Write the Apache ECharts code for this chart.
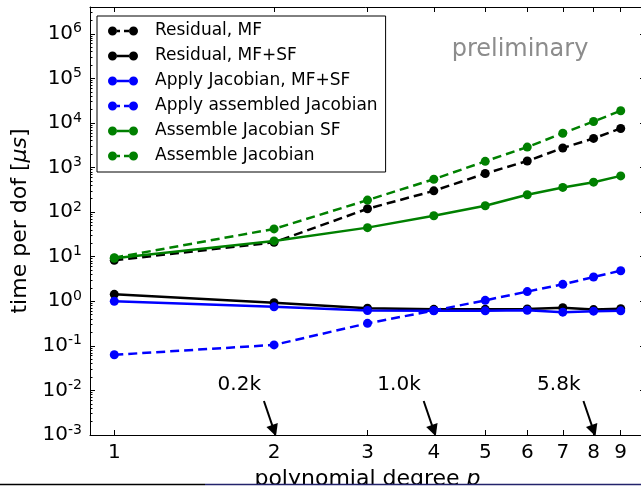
<!DOCTYPE html>
<html>
<head>
<meta charset="utf-8">
<script src="https://cdn.jsdelivr.net/npm/echarts@6/dist/echarts.min.js"></script>
<style>
html,body{margin:0;padding:0;background:#fff;}
#chart{width:641px;height:486px;}
</style>
</head>
<body>
<div id="chart"></div>
<script>
// ---- data ----
var degrees = [1, 2, 3, 4, 5, 6, 7, 8, 9];
var residualMF = [8.3, 21, 119, 300, 735, 1400, 2740, 4510, 7540];
var residualMFSF = [1.43, 0.93, 0.70, 0.66, 0.66, 0.67, 0.72, 0.65, 0.68];
var applyJacMFSF = [1.0, 0.75, 0.62, 0.61, 0.61, 0.63, 0.57, 0.60, 0.61];
var applyAssembled = [0.063, 0.105, 0.32, 0.62, 1.05, 1.65, 2.4, 3.5, 4.85];
var assembleJacSF = [9.2, 22.6, 44.9, 83, 139, 245, 358, 470, 650];
var assembleJac = [9.5, 42, 186, 548, 1380, 2880, 5900, 10800, 18800];
var seriesNames = ['Residual, MF', 'Residual, MF+SF', 'Apply Jacobian, MF+SF',
  'Apply assembled Jacobian', 'Assemble Jacobian SF', 'Assemble Jacobian'];
var yMajorTicks = [1e-3, 1e-2, 1e-1, 1, 10, 100, 1e3, 1e4, 1e5, 1e6];
var xTicks = [1, 2, 3, 4, 5, 6, 7, 8, 9];
var annotDegrees = [2, 4, 8];
var annotLabels = ['0.2k', '1.0k', '5.8k'];
var watermark = 'preliminary';

// ---- build ----
var FONT = 'DejaVu Sans';
var yMinorTicks = [];
for (var e = -3; e <= 6; e++) {
  for (var k = 2; k <= 9; k++) {
    var v = k * Math.pow(10, e);
    if (v < 4e6) yMinorTicks.push(v);
  }
}
function pairs(arr) { return degrees.map(function (d, i) { return [d, arr[i]]; }); }

var solidIcon = 'path://M0,4.5a4.5,4.5 0 1,0 9,0a4.5,4.5 0 1,0 -9,0Z M21,4.5a4.5,4.5 0 1,0 9,0a4.5,4.5 0 1,0 -9,0Z M8.8,3.3H21.2V5.7H8.8Z';
var dashIcon = 'path://M0,4.5a4.5,4.5 0 1,0 9,0a4.5,4.5 0 1,0 -9,0Z M21,4.5a4.5,4.5 0 1,0 9,0a4.5,4.5 0 1,0 -9,0Z M8.8,3.3H12V5.7H8.8Z M16,3.3H21.2V5.7H16Z';

var defs = [
  {data: residualMF, color: '#000000', dashed: true},
  {data: residualMFSF, color: '#000000', dashed: false},
  {data: applyJacMFSF, color: '#0000ff', dashed: false},
  {data: applyAssembled, color: '#0000ff', dashed: true},
  {data: assembleJacSF, color: '#008000', dashed: false},
  {data: assembleJac, color: '#008000', dashed: true}
];

var series = defs.map(function (d, i) {
  return {
    name: seriesNames[i],
    type: 'line',
    data: pairs(d.data),
    symbol: 'circle',
    symbolSize: 9,
    showAllSymbol: true,
    color: d.color,
    itemStyle: {color: d.color, borderWidth: 0},
    lineStyle: {color: d.color, width: 2.5, type: d.dashed ? [9, 5] : 'solid'},
    emphasis: {disabled: true},
    z: 3 + i
  };
});

// annotations (arrows + labels) in data coordinates
series.push({
  name: 'annotations',
  type: 'line',
  data: [],
  silent: true,
  clip: false,
  markLine: {
    silent: true,
    symbol: ['none', 'triangle'],
    symbolSize: 12,
    symbolOffset: [0, 0],
    label: {show: false},
    lineStyle: {color: '#000', width: 2, type: 'solid'},
    itemStyle: {color: '#000'},
    emphasis: {disabled: true},
    data: annotDegrees.map(function (p) {
      return [{coord: [p * 0.957, 0.0058]}, {coord: [p, 0.00125]}];
    })
  },
  markPoint: {
    silent: true,
    symbol: 'circle',
    symbolSize: 0,
    label: {show: true, position: 'inside', formatter: '{b}', color: '#000', fontSize: 20, fontFamily: FONT},
    data: annotDegrees.map(function (p, i) {
      return {name: annotLabels[i], coord: [p * 0.86, 0.0132], value: 0};
    })
  }
});

var logX = {type: 'log', logBase: 2, min: 0.9, max: 10, gridIndex: 0};
var chart = echarts.init(document.getElementById('chart'), null, {renderer: 'canvas'});
chart.setOption({
  animation: false,
  backgroundColor: '#ffffff',
  grid: {left: 90, top: 7, width: 555, height: 428, containLabel: false, outerBoundsMode: 'none'},
  legend: {
    left: 97, top: 16,
    orient: 'vertical',
    padding: [5, 8, 6, 11],
    itemWidth: 30, itemHeight: 9, itemGap: 5,
    borderColor: '#000', borderWidth: 1, backgroundColor: '#fff',
    selectedMode: false,
    textStyle: {fontSize: 17, fontFamily: FONT, color: '#000', lineHeight: 20, padding: [0, 0, 0, 12]},
    data: seriesNames.map(function (n, i) { return {name: n, icon: defs[i].dashed ? dashIcon : solidIcon}; }),
    z: 20
  },
  xAxis: [
    Object.assign({}, logX, {
      position: 'bottom',
      name: 'polynomial degree {i|p}',
      nameLocation: 'middle', nameGap: 24,
      nameTextStyle: {fontSize: 22, fontFamily: FONT, color: '#000', rich: {i: {fontSize: 22, fontStyle: 'italic', fontFamily: FONT}}},
      axisLine: {show: true, lineStyle: {color: '#000', width: 1}},
      axisTick: {show: true, inside: true, length: 5, customValues: xTicks, lineStyle: {color: '#000'}},
      axisLabel: {show: true, customValues: xTicks, margin: 8, fontSize: 20, fontFamily: FONT, color: '#000', formatter: function (v) { return String(Math.round(v)); }},
      splitLine: {show: false}, minorTick: {show: false}
    }),
    Object.assign({}, logX, {
      position: 'top',
      axisLine: {show: true, lineStyle: {color: '#000', width: 1}},
      axisTick: {show: true, inside: true, length: 5, customValues: xTicks, lineStyle: {color: '#000'}},
      axisLabel: {show: false},
      splitLine: {show: false}
    })
  ],
  yAxis: [
    {
      type: 'log', logBase: 10, min: 1e-3, max: 4e6, position: 'left',
      name: 'time per dof [{i|μs}]',
      nameLocation: 'middle', nameGap: 56,
      nameTextStyle: {fontSize: 22, fontFamily: FONT, color: '#000', rich: {i: {fontSize: 22, fontStyle: 'italic', fontFamily: FONT}}},
      axisLine: {show: true, lineStyle: {color: '#000', width: 1}},
      axisTick: {show: true, inside: true, length: 5, customValues: yMajorTicks, lineStyle: {color: '#000'}},
      axisLabel: {
        show: true, customValues: yMajorTicks, margin: 8, color: '#000',
        formatter: function (v) { var e = Math.round(Math.log10(v)); return '{b|10}{s|' + e + '}'; },
        rich: {b: {fontSize: 20, fontFamily: FONT, color: '#000'}, s: {fontSize: 14, fontFamily: FONT, color: '#000', padding: [0, 0, 10, 0]}}
      },
      splitLine: {show: false}
    },
    {
      type: 'log', logBase: 10, min: 1e-3, max: 4e6, position: 'right',
      axisLine: {show: true, lineStyle: {color: '#000', width: 1}},
      axisTick: {show: true, inside: true, length: 5, customValues: yMajorTicks, lineStyle: {color: '#000'}},
      axisLabel: {show: false}, splitLine: {show: false}
    },
    {
      type: 'log', logBase: 10, min: 1e-3, max: 4e6, position: 'left',
      axisLine: {show: false},
      axisTick: {show: true, inside: true, length: 2.5, customValues: yMinorTicks, lineStyle: {color: '#000'}},
      axisLabel: {show: false}, splitLine: {show: false}
    },
    {
      type: 'log', logBase: 10, min: 1e-3, max: 4e6, position: 'right',
      axisLine: {show: false},
      axisTick: {show: true, inside: true, length: 2.5, customValues: yMinorTicks, lineStyle: {color: '#000'}},
      axisLabel: {show: false}, splitLine: {show: false}
    }
  ],
  series: series,
  graphic: [
    {type: 'text', position: [520, 38], silent: true, z: 10,
     style: {text: watermark, fill: '#8c8c8c', fontSize: 24, fontFamily: FONT, textAlign: 'center', textVerticalAlign: 'top'}},
    {type: 'rect', shape: {x: 0, y: 484, width: 641, height: 2}, style: {fill: '#ffffff'}, z: 100, silent: true},
    {type: 'line', shape: {x1: 0, y1: 484.5, x2: 205, y2: 484.5}, style: {stroke: '#000000', lineWidth: 1.5}, z: 101, silent: true},
    {type: 'line', shape: {x1: 205, y1: 484.5, x2: 641, y2: 484.5}, style: {stroke: '#23236b', lineWidth: 1.5}, z: 101, silent: true}
  ]
});
</script>
</body>
</html>
